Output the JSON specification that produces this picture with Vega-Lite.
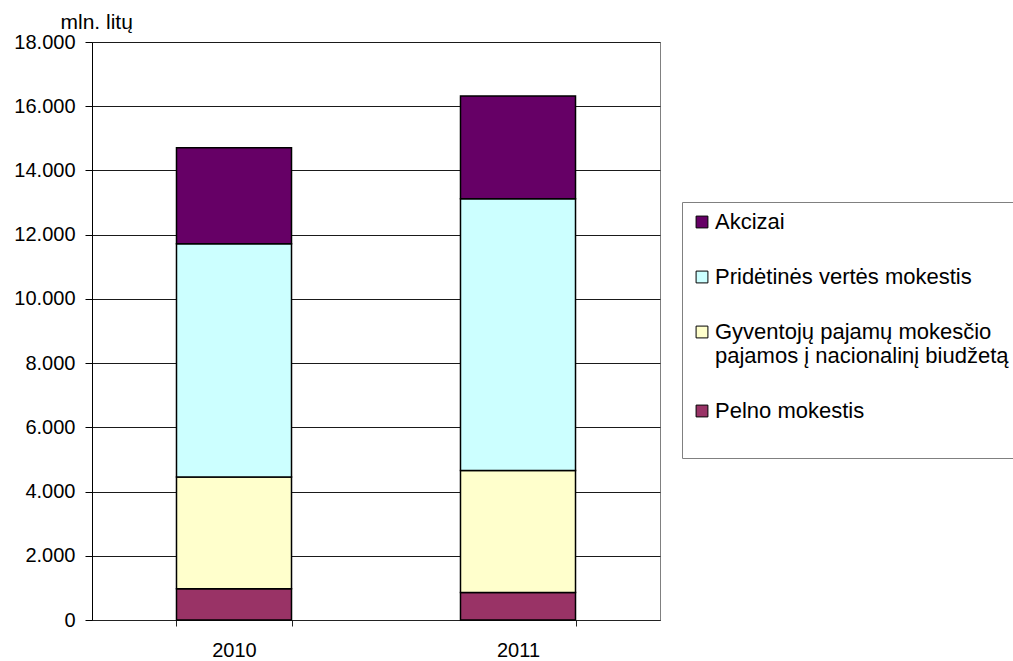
{
  "$schema": "https://vega.github.io/schema/vega-lite/v6.json",
  "width": 568,
  "height": 578,
  "autosize": "none",
  "padding": {"left": 92, "top": 42, "right": 353, "bottom": 41},
  "background": "white",
  "config": {"font": "Liberation Sans", "view": {"stroke": "#808080", "strokeWidth": 1}},
  "data": {
    "values": [
      {"metai": "2010", "kategorija": "Pelno mokestis", "eil": 1, "reiksme": 970},
      {"metai": "2010", "kategorija": "Gyventojų pajamų mokesčio pajamos į nacionalinį biudžetą", "eil": 2, "reiksme": 3480},
      {"metai": "2010", "kategorija": "Pridėtinės vertės mokestis", "eil": 3, "reiksme": 7265},
      {"metai": "2010", "kategorija": "Akcizai", "eil": 4, "reiksme": 2995},
      {"metai": "2011", "kategorija": "Pelno mokestis", "eil": 1, "reiksme": 860},
      {"metai": "2011", "kategorija": "Gyventojų pajamų mokesčio pajamos į nacionalinį biudžetą", "eil": 2, "reiksme": 3795},
      {"metai": "2011", "kategorija": "Pridėtinės vertės mokestis", "eil": 3, "reiksme": 8465},
      {"metai": "2011", "kategorija": "Akcizai", "eil": 4, "reiksme": 3200}
    ]
  },
  "mark": {"type": "bar", "stroke": "black", "strokeWidth": 1.5},
  "encoding": {
    "x": {
      "field": "metai",
      "type": "nominal",
      "scale": {"paddingInner": 0.595, "paddingOuter": 0.2975},
      "axis": {
        "title": null,
        "labelAngle": 0,
        "labelFontSize": 20,
        "labelColor": "black",
        "tickBand": "extent",
        "tickSize": 6,
        "tickColor": "#222222",
        "domainColor": "#222222",
        "labelPadding": 14,
        "grid": false
      }
    },
    "y": {
      "field": "reiksme",
      "type": "quantitative",
      "stack": "zero",
      "scale": {"domain": [0, 18000], "nice": false},
      "axis": {
        "values": [0, 2000, 4000, 6000, 8000, 10000, 12000, 14000, 16000, 18000],
        "title": "mln. litų",
        "titleAngle": 0,
        "titleX": -32,
        "titleY": -14,
        "titleAlign": "left",
        "titleBaseline": "alphabetic",
        "titleFontSize": 21,
        "titleFontWeight": "normal",
        "titleColor": "black",
        "labelFontSize": 20,
        "labelColor": "black",
        "labelExpr": "replace(format(datum.value, ','), ',', '.')",
        "gridColor": "#1a1a1a",
        "domainColor": "black",
        "tickColor": "black",
        "tickSize": 7,
        "labelPadding": 10
      }
    },
    "color": {
      "field": "kategorija",
      "type": "nominal",
      "scale": {
        "domain": ["Akcizai", "Pridėtinės vertės mokestis", "Gyventojų pajamų mokesčio pajamos į nacionalinį biudžetą", "Pelno mokestis"],
        "range": ["#660066", "#CCFFFF", "#FFFFCC", "#993366"]
      },
      "legend": {
        "orient": "none",
        "legendX": 590,
        "legendY": 160,
        "title": " ",
        "titleOrient": "bottom",
        "titleFontSize": 20,
        "titlePadding": 7,
        "fillColor": "white",
        "strokeColor": "#808080",
        "padding": 9,
        "symbolType": "square",
        "symbolSize": 140,
        "symbolStrokeColor": "black",
        "symbolStrokeWidth": 1,
        "labelFontSize": 22,
        "labelColor": "black",
        "labelOffset": 2,
        "labelLimit": 400,
        "rowPadding": 33,
        "labelExpr": "datum.label == 'Gyventojų pajamų mokesčio pajamos į nacionalinį biudžetą' ? ['Gyventojų pajamų mokesčio', 'pajamos į nacionalinį biudžetą'] : datum.label"
      }
    },
    "order": {"field": "eil", "type": "quantitative"}
  }
}
